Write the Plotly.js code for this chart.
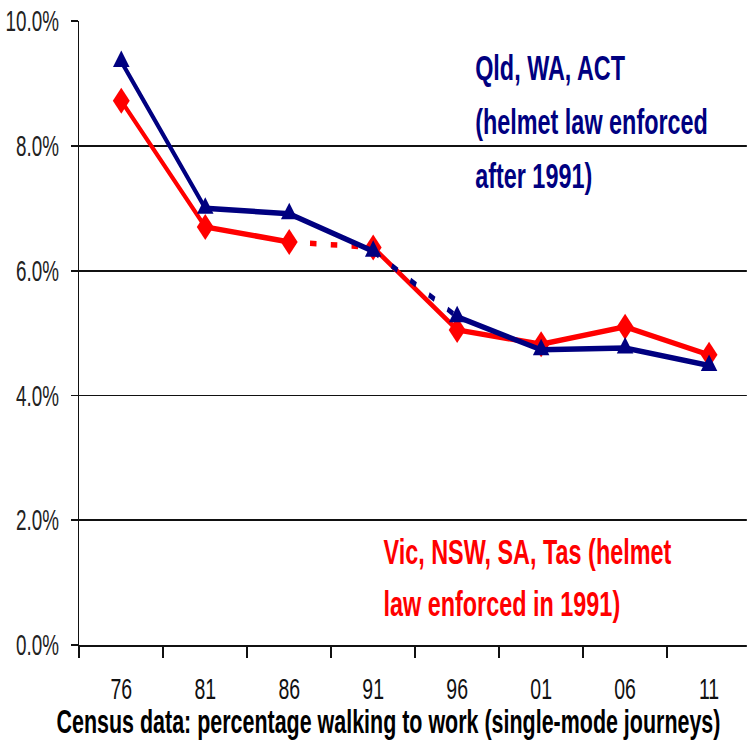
<!DOCTYPE html>
<html>
<head>
<meta charset="utf-8">
<script src="https://cdn.plot.ly/plotly-3.0.1.min.js"></script>
<style>
html,body{margin:0;padding:0;background:#fff;overflow:hidden;width:747px;height:744px;}
#wrap{width:747px;height:744px;overflow:hidden;position:relative;}
#chart{position:absolute;left:0;top:0;transform-origin:0 0;}
</style>
</head>
<body>
<div id="wrap"><div id="chart"></div></div>
<script>
const years = ["76", "81", "86", "91", "96", "01", "06", "11"];
const vicNswSaTas = [8.72, 6.70, 6.46, 6.37, 5.05, 4.82, 5.10, 4.65];
const qldWaAct = [9.35, 7.00, 6.91, 6.31, 5.26, 4.73, 4.76, 4.48];
const yTickVals = [0, 2, 4, 6, 8, 10];
const yTickText = ["0.0%", "2.0%", "4.0%", "6.0%", "8.0%", "10.0%"];
const blueLabel = ["Qld, WA, ACT", "(helmet law enforced", "after 1991)"];
const redLabel = ["Vic, NSW, SA, Tas (helmet", "law enforced in 1991)"];
const xTitle = "Census data: percentage walking to work (single-mode journeys)";

const RED = "#ff0000", NAVY = "#000080";
const FONT = "'Liberation Sans', Arial, sans-serif";

// The reference picture is horizontally condensed; draw wider, then squeeze.
const S = 0.65;
const W = 747 / S, H = 744;
document.getElementById("chart").style.transform = "scaleX(" + S + ")";

function seg(vals, a, b, color, dash) {
  return {
    x: years.slice(a, b + 1), y: vals.slice(a, b + 1),
    type: "scatter", mode: "lines", hoverinfo: "skip", showlegend: false,
    line: {color: color, width: 5.5, dash: dash}
  };
}
const traces = [
  seg(vicNswSaTas, 0, 2, RED, "solid"),
  seg(vicNswSaTas, 2, 3, RED, "10px,22px"),
  seg(vicNswSaTas, 3, 7, RED, "solid"),
  {x: years, y: vicNswSaTas, type: "scatter", mode: "markers", showlegend: false,
   marker: {symbol: "diamond", size: 20, color: RED}},
  seg(qldWaAct, 0, 3, NAVY, "solid"),
  seg(qldWaAct, 3, 4, NAVY, "10px,22px"),
  seg(qldWaAct, 4, 7, NAVY, "solid"),
  {x: years, y: qldWaAct, type: "scatter", mode: "markers", showlegend: false,
   marker: {symbol: "triangle-up", size: 22, color: NAVY}}
];

// reference-pixel frame of the plot area
const L = 79, R = 747, T = 21, B = 645;
function px(x){ return (x - L) / (R - L); }
function py(y){ return (B - y) / (B - T); }

const annotations = [];
const blueY = [68, 122, 175];
blueLabel.forEach((t, i) => annotations.push({
  text: "<b>" + t + "</b>", xref: "paper", yref: "paper", x: px(474), y: py(blueY[i]),
  xanchor: "left", yanchor: "middle", showarrow: false,
  font: {family: FONT, size: 36, color: NAVY}
}));
const redY = [551, 603];
redLabel.forEach((t, i) => annotations.push({
  text: "<b>" + t + "</b>", xref: "paper", yref: "paper", x: px(382), y: py(redY[i]),
  xanchor: "left", yanchor: "middle", showarrow: false,
  font: {family: FONT, size: 36, color: RED}
}));
annotations.push({
  text: "<b>" + xTitle + "</b>", xref: "paper", yref: "paper", x: px(388), y: py(721),
  xanchor: "center", yanchor: "middle", showarrow: false,
  font: {family: FONT, size: 33, color: "#000"}
});

const layout = {
  width: W, height: H,
  margin: {l: L / S, r: (747 - R) / S, t: T, b: H - B, pad: 0},
  paper_bgcolor: "#fff", plot_bgcolor: "#fff",
  font: {family: FONT, color: "#111"},
  showlegend: false,
  xaxis: {
    type: "category", categoryorder: "array", categoryarray: years,
    range: [-0.5, 7.45], fixedrange: true,
    showgrid: false, zeroline: false,
    showline: true, linecolor: "#111", linewidth: 2,
    ticks: "outside", tickson: "boundaries", ticklen: 11, tickwidth: 2.5, tickcolor: "#111",
    tickfont: {family: FONT, size: 30, color: "#111"},
    ticklabelstandoff: 16
  },
  yaxis: {
    range: [0, 10], fixedrange: true,
    tickmode: "array", tickvals: yTickVals, ticktext: yTickText,
    showgrid: true, gridcolor: "#111", gridwidth: 1.8,
    zeroline: false,
    showline: true, linecolor: "#111", linewidth: 2.5,
    ticks: "outside", ticklen: 11, tickwidth: 1.8, tickcolor: "#111",
    tickfont: {family: FONT, size: 29, color: "#222"},
    ticklabelstandoff: 12
  },
  annotations: annotations
};

Plotly.newPlot("chart", traces, layout, {displayModeBar: false, staticPlot: true});
</script>
</body>
</html>
